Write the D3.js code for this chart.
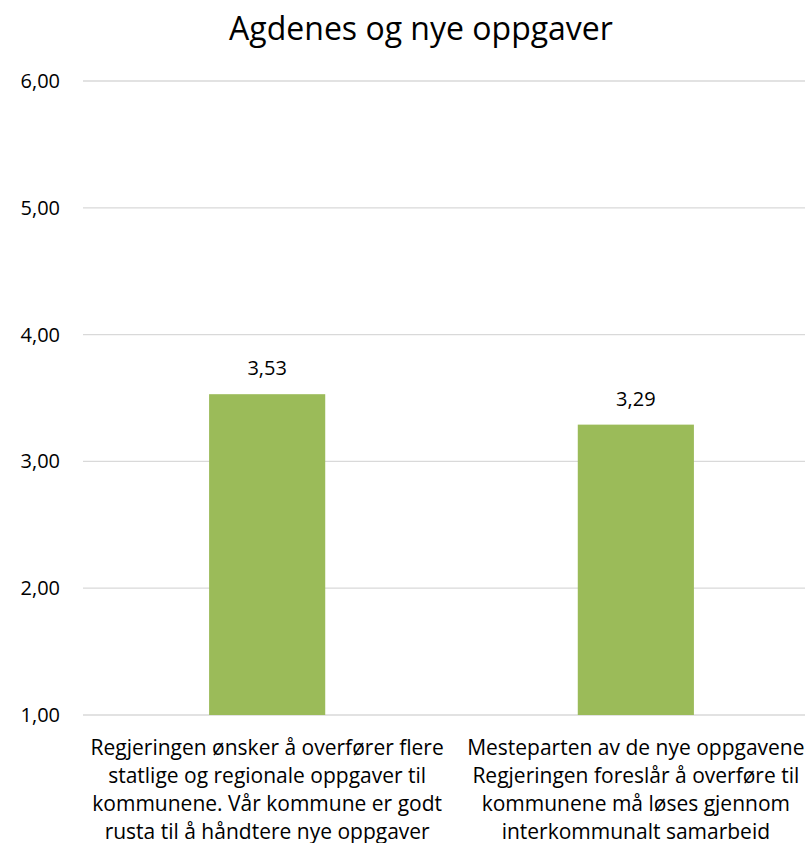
<!DOCTYPE html>
<html>
<head>
<meta charset="utf-8">
<script src="https://cdn.jsdelivr.net/npm/d3@7"></script>
<style>
  html, body { margin: 0; padding: 0; background: #fff; }
  svg { display: block; }
  text { font-family: "Open Sans", sans-serif; fill: #000; }
</style>
</head>
<body>
<div id="chart"></div>
<script>
// Chart data
const title = "Agdenes og nye oppgaver";
const categories = [
  ["Regjeringen ønsker å overfører flere", "statlige og regionale oppgaver til", "kommunene. Vår kommune er godt", "rusta til å håndtere nye oppgaver"],
  ["Mesteparten av de nye oppgavene", "Regjeringen foreslår å overføre til", "kommunene må løses gjennom", "interkommunalt samarbeid"]
];
const values = [3.53, 3.29];
const yTicks = [1, 2, 3, 4, 5, 6];

const width = 805, height = 843;
const margin = { top: 81, bottom: 128, left: 83 };
const plotRight = 820; // plot area runs past the right edge of the page
const fmt = v => d3.format(".2f")(v).replace(".", ",");

const svg = d3.select("#chart").append("svg")
  .attr("width", width).attr("height", height);

const x = d3.scaleBand()
  .domain(d3.range(categories.length))
  .range([margin.left, plotRight])
  .paddingInner(0.685).paddingOuter(0.342);

const y = d3.scaleLinear()
  .domain([1, 6])
  .range([height - margin.bottom, margin.top]);

// Title
svg.append("text")
  .attr("x", 421).attr("y", 40)
  .attr("text-anchor", "middle")
  .style("font-size", "32px")
  .text(title);

// Gridlines
svg.append("g")
  .selectAll("line")
  .data(yTicks)
  .join("line")
  .attr("x1", margin.left).attr("x2", width)
  .attr("y1", d => y(d)).attr("y2", d => y(d))
  .attr("stroke", "#d9d9d9").attr("stroke-width", 1.3);

// Y axis labels
const yAxis = d3.axisLeft(y).tickValues(yTicks).tickFormat(fmt).tickSize(0).tickPadding(23);
const gy = svg.append("g").attr("transform", `translate(${margin.left},0)`).call(yAxis);
gy.select(".domain").remove();
gy.attr("font-family", null).attr("font-size", null);
gy.selectAll("text")
  .style("font-size", "20px")
  .attr("fill", "#000");

// Bars
svg.append("g")
  .selectAll("rect")
  .data(values)
  .join("rect")
  .attr("x", (d, i) => x(i))
  .attr("width", x.bandwidth())
  .attr("y", d => y(d))
  .attr("height", d => y(1) - y(d))
  .attr("fill", "#9bbb59");

// Value labels
svg.append("g")
  .selectAll("text")
  .data(values)
  .join("text")
  .attr("x", (d, i) => x(i) + x.bandwidth() / 2)
  .attr("y", d => y(d) - 19)
  .attr("text-anchor", "middle")
  .style("font-size", "20px")
  .text(fmt);

// Category labels
const cat = svg.append("g")
  .selectAll("text")
  .data(categories)
  .join("text")
  .attr("x", (d, i) => x(i) + x.bandwidth() / 2)
  .attr("y", 755)
  .attr("text-anchor", "middle")
  .style("font-size", "21px");
cat.selectAll("tspan")
  .data(d => d)
  .join("tspan")
  .attr("x", function () { return this.parentNode.getAttribute("x"); })
  .attr("dy", (d, i) => i === 0 ? 0 : 28)
  .text(d => d);
</script>
</body>
</html>
